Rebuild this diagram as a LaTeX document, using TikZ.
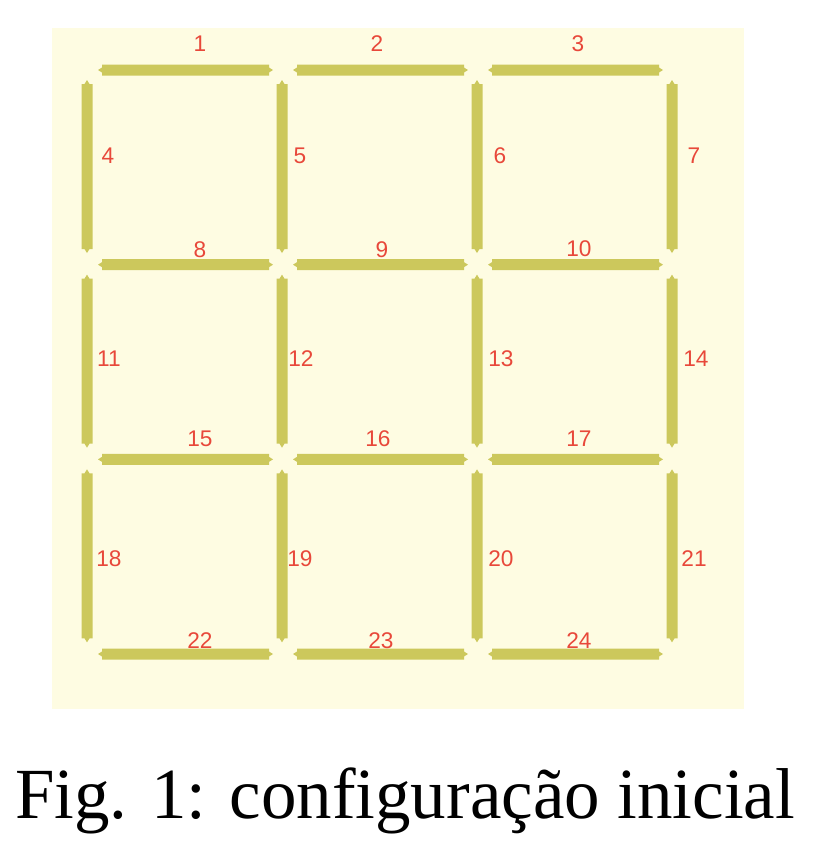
\documentclass[tikz,border=0pt]{standalone}
\usepackage{fontspec}
\setmainfont{Liberation Serif}
\newfontfamily\labelfont{Liberation Sans}
\definecolor{panelbg}{RGB}{254,252,226}
\definecolor{matchcol}{RGB}{204,200,92}
\definecolor{labelred}{RGB}{232,72,58}

\begin{document}
\begin{tikzpicture}[
    x=0.75pt, y=-0.75pt,
    panel/.style={fill=panelbg, draw=none},
    matchstick/.style={fill=matchcol, draw=none},
    numlabel/.style={text=labelred, inner sep=0pt, font=\labelfont\fontsize{17}{19}\selectfont},
    caption/.style={anchor=base, inner sep=0pt, xscale=0.985, font=\fontsize{54}{60}\selectfont}
]
\useasboundingbox (0,0) rectangle (820,844);

% Background panel
\fill[panel] (52,28) rectangle (744,709);

% Horizontal matches (rows of the grid)
\foreach \r in {0,...,3}{
  \foreach \c in {0,1,2}{
    \pgfmathsetmacro{\yy}{70+194.67*\r}
    \pgfmathsetmacro{\xa}{98+195*\c}
    \pgfmathsetmacro{\xb}{273+195*\c}
    \fill[matchstick] (\xa,\yy) -- ++(4,-2.5) -- ++(0,-3) -- (\xb-4,\yy-5.5) -- ++(0,3)
      -- (\xb,\yy) -- ++(-4,2.5) -- ++(0,3) -- (\xa+4,\yy+5.5) -- ++(0,-3) -- cycle;
  }
}

% Vertical matches (columns of the grid)
\foreach \c in {0,...,3}{
  \foreach \r in {0,1,2}{
    \pgfmathsetmacro{\xx}{87+195*\c}
    \pgfmathsetmacro{\ya}{80+194.67*\r}
    \pgfmathsetmacro{\yb}{253+194.67*\r}
    \fill[matchstick] (\xx,\ya) -- ++(2.5,4) -- ++(3,0) -- (\xx+5.5,\yb-4) -- ++(-3,0)
      -- (\xx,\yb) -- ++(-2.5,-4) -- ++(-3,0) -- (\xx-5.5,\ya+4) -- ++(3,0) -- cycle;
  }
}

% Match numbers
\foreach \n/\x/\y in {1/200/44, 2/377/44, 3/578/44,
    4/108/156, 5/300/156, 6/500/156, 7/694/156,
    8/200/250, 9/382/250, 10/579/249,
    11/109/359, 12/301/359, 13/501/359, 14/696/359,
    15/200/439, 16/378/439, 17/579/439,
    18/109/559, 19/300/559, 20/501/559, 21/694/559,
    22/200/641, 23/381/641, 24/579/641}
  \node[numlabel] (m\n) at (\x,\y) {\n};

% Caption
\node[caption] (cap) at (405,818) {Fig. 1: configuração inicial};

\end{tikzpicture}
\end{document}
